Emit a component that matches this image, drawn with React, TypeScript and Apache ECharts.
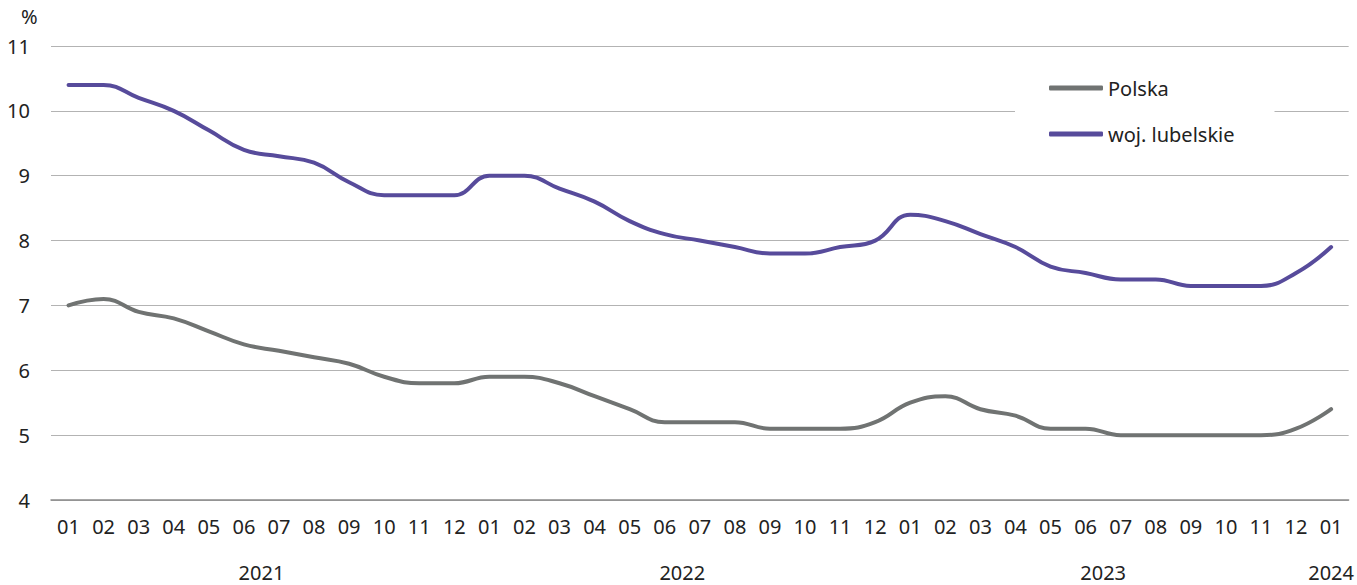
import React, { useEffect, useRef } from "react";
import * as echarts from "echarts";

const months = [
  "01","02","03","04","05","06","07","08","09","10","11","12",
  "01","02","03","04","05","06","07","08","09","10","11","12",
  "01","02","03","04","05","06","07","08","09","10","11","12",
  "01",
];
const polska = [
  7.0, 7.1, 6.9, 6.8, 6.6, 6.4, 6.3, 6.2, 6.1, 5.9, 5.8, 5.8,
  5.9, 5.9, 5.8, 5.6, 5.4, 5.2, 5.2, 5.2, 5.1, 5.1, 5.1, 5.2,
  5.5, 5.6, 5.4, 5.3, 5.1, 5.1, 5.0, 5.0, 5.0, 5.0, 5.0, 5.1,
  5.4,
];
const lubelskie = [
  10.4, 10.4, 10.2, 10.0, 9.7, 9.4, 9.3, 9.2, 8.9, 8.7, 8.7, 8.7,
  9.0, 9.0, 8.8, 8.6, 8.3, 8.1, 8.0, 7.9, 7.8, 7.8, 7.9, 8.0,
  8.4, 8.3, 8.1, 7.9, 7.6, 7.5, 7.4, 7.4, 7.3, 7.3, 7.3, 7.5,
  7.9,
];
// year labels placed at the centre of each year's months (category index)
const yearPositions = [5.5, 17.5, 29.5, 36];
const yearLabels = ["2021", "2022", "2023", "2024"];

const FONT = "'Noto Sans', sans-serif";

export default function App() {
  const ref = useRef<HTMLDivElement>(null);
  useEffect(() => {
    if (!ref.current) return;
    const chart = echarts.init(ref.current, null, { renderer: "svg" });
    chart.setOption({
      animation: false,
      textStyle: { fontFamily: FONT },
      grid: { left: 51, right: 6, top: 46, bottom: 85, containLabel: false },
      legend: {
        orient: "vertical",
        left: 1015,
        top: 56,
        backgroundColor: "#ffffff",
        padding: [22, 40, 18, 34],
        itemGap: 26,
        itemWidth: 54,
        itemHeight: 5,
        icon: "roundRect",
        itemStyle: { borderWidth: 0 },
        textStyle: { fontSize: 20, color: "#222", fontFamily: FONT, lineHeight: 20 },
        data: ["Polska", "woj. lubelskie"],
      },
      xAxis: [
        {
          type: "category",
          data: months,
          boundaryGap: true,
          axisLine: { show: true, lineStyle: { color: "#8a8a8a", width: 1.5 } },
          axisTick: { show: false },
          axisLabel: { interval: 0, fontSize: 20, color: "#222", margin: 16, fontFamily: FONT },
        },
        {
          type: "value",
          position: "bottom",
          min: -0.5,
          max: 36.5,
          interval: 0.5,
          axisLine: { show: false },
          axisTick: { show: false },
          splitLine: { show: false },
          axisLabel: {
            fontSize: 20,
            color: "#222",
            margin: 62,
            fontFamily: FONT,
            showMinLabel: true,
            showMaxLabel: true,
            formatter: (v: number) => {
              const i = yearPositions.findIndex((p) => Math.abs(p - v) < 1e-6);
              return i >= 0 ? yearLabels[i] : "";
            },
          },
        },
      ],
      yAxis: {
        type: "value",
        min: 4,
        max: 11,
        interval: 1,
        axisLine: { show: false },
        axisTick: { show: false },
        axisLabel: { fontSize: 20, color: "#222", margin: 21, fontFamily: FONT },
        splitLine: { lineStyle: { color: "#b3b3b3", width: 1.2 } },
      },
      graphic: [
        {
          type: "text",
          left: 21,
          top: 6,
          style: { text: "%", fontSize: 20, fill: "#222", fontFamily: FONT },
        },
      ],
      series: [
        {
          name: "Polska",
          type: "line",
          xAxisIndex: 0,
          data: polska,
          smooth: 0.45,
          symbol: "none",
          lineStyle: { color: "#707372", width: 4, cap: "round" },
          itemStyle: { color: "#707372" },
        },
        {
          name: "woj. lubelskie",
          type: "line",
          xAxisIndex: 0,
          data: lubelskie,
          smooth: 0.45,
          symbol: "none",
          lineStyle: { color: "#574b9b", width: 4, cap: "round" },
          itemStyle: { color: "#574b9b" },
        },
      ],
    });
    return () => chart.dispose();
  }, []);
  return (
    <div
      ref={ref}
      style={{ position: "fixed", left: 0, top: 0, width: 1357, height: 585, background: "#fff" }}
    />
  );
}
